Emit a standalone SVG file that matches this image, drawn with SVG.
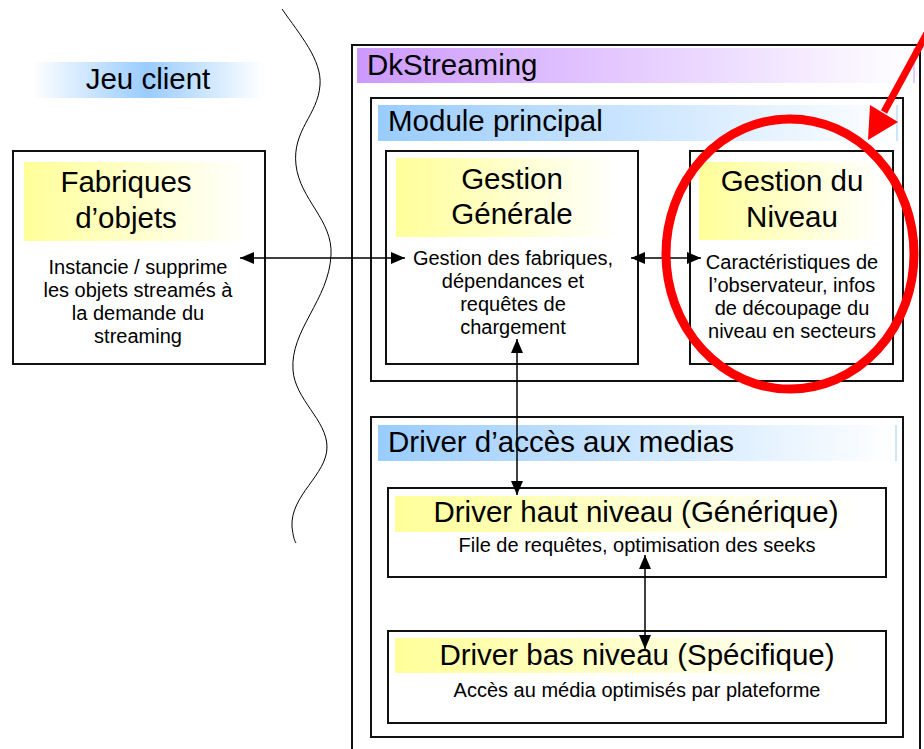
<svg xmlns="http://www.w3.org/2000/svg" width="924" height="749" viewBox="0 0 924 749">
<style>
text{font-family:"Liberation Sans",Arial,sans-serif;fill:#000}
.t{font-size:29.5px}
.s{font-size:20px}
.c{text-anchor:middle}
.box{fill:#fff;stroke:#111;stroke-width:2}
.con{stroke:#000;stroke-width:1.5;fill:none;marker-start:url(#ah);marker-end:url(#ah)}
</style>
<defs>
<linearGradient id="gY" x1="0" x2="1" y1="0" y2="0"><stop offset="0" stop-color="#FFFF99"/><stop offset="1" stop-color="#FFFFFF"/></linearGradient>
<linearGradient id="gB" x1="0" x2="1" y1="0" y2="0"><stop offset="0" stop-color="#99CCFF"/><stop offset="1" stop-color="#FFFFFF"/></linearGradient>
<linearGradient id="gP" x1="0" x2="1" y1="0" y2="0"><stop offset="0" stop-color="#CC99FF"/><stop offset="1" stop-color="#FFFFFF"/></linearGradient>
<linearGradient id="gJ" x1="0" x2="1" y1="0" y2="0"><stop offset="0" stop-color="#FFFFFF"/><stop offset="0.5" stop-color="#99CCFF"/><stop offset="1" stop-color="#FFFFFF"/></linearGradient>
<marker id="ah" viewBox="0 0 14 12" refX="14" refY="6" markerWidth="14" markerHeight="12" markerUnits="userSpaceOnUse" orient="auto-start-reverse"><path d="M0,0 L14,6 L0,12 z" fill="#000"/></marker>
</defs>

<path d="M282,9 C300,35 322,60 320,85 C318,115 292,130 296,165 C300,200 333,220 331,255 C329,300 290,330 293,370 C295,400 327,420 327,447 C327,475 290,495 292,527 C293,535 294,540 296,543" fill="none" stroke="#000" stroke-width="1"/>

<g id="jeu-client">
<rect x="32" y="62" width="231" height="36" fill="url(#gJ)"/>
<text class="t c" x="148" y="89">Jeu client</text>
</g>

<g id="fabriques">
<rect class="box" x="13" y="151" width="252" height="213"/>
<rect x="24" y="162" width="226" height="79" fill="url(#gY)"/>
<text class="t c" x="126" y="192">Fabriques</text>
<text class="t c" x="126" y="228">d’objets</text>
<text class="s c" x="138" y="274">Instancie / supprime</text>
<text class="s c" x="138" y="297">les objets streamés à</text>
<text class="s c" x="138" y="320">la demande du</text>
<text class="s c" x="138" y="343">streaming</text>
</g>

<g id="dkstreaming">
<rect class="box" x="352" y="45" width="568" height="720"/>
<rect x="357" y="48" width="557" height="35" fill="url(#gP)"/>
<line x1="914" y1="48" x2="914" y2="83" stroke="#CC99FF" stroke-width="1"/>
<text class="t" x="367" y="75">DkStreaming</text>
</g>

<g id="module-principal">
<rect class="box" x="371" y="98" width="532" height="283"/>
<rect x="378" y="105" width="519" height="36" fill="url(#gB)"/>
<line x1="897" y1="105" x2="897" y2="141" stroke="#99CCFF" stroke-width="1"/>
<text class="t" x="388" y="131">Module principal</text>
</g>

<g id="gestion-generale">
<rect class="box" x="386" y="151" width="252" height="213"/>
<rect x="396" y="158" width="224" height="79" fill="url(#gY)"/>
<text class="t c" x="512" y="189">Gestion</text>
<text class="t c" x="512" y="224">Générale</text>
<text class="s c" x="513" y="265">Gestion des fabriques,</text>
<text class="s c" x="513" y="288">dépendances et</text>
<text class="s c" x="513" y="311">requêtes de</text>
<text class="s c" x="513" y="334">chargement</text>
</g>

<g id="gestion-niveau">
<rect class="box" x="690" y="151" width="203" height="213"/>
<rect x="699" y="162" width="183" height="78" fill="url(#gY)"/>
<text class="t c" x="792" y="191">Gestion du</text>
<text class="t c" x="792" y="227">Niveau</text>
<text class="s c" x="792" y="269">Caractéristiques de</text>
<text class="s c" x="792" y="292">l’observateur, infos</text>
<text class="s c" x="792" y="315">de découpage du</text>
<text class="s c" x="792" y="338">niveau en secteurs</text>
</g>

<g id="driver-acces">
<rect class="box" x="371" y="417" width="532" height="320"/>
<rect x="378" y="425" width="518" height="36" fill="url(#gB)"/>
<line x1="896" y1="425" x2="896" y2="461" stroke="#99CCFF" stroke-width="1"/>
<text class="t" x="388" y="452">Driver d’accès aux medias</text>
</g>

<g id="driver-haut">
<rect class="box" x="388" y="488" width="498" height="89"/>
<rect x="395" y="496" width="464" height="36" fill="url(#gY)"/>
<text class="t c" x="636" y="522">Driver haut niveau (Générique)</text>
<text class="s c" x="637" y="552">File de requêtes, optimisation des seeks</text>
</g>

<g id="driver-bas">
<rect class="box" x="388" y="631" width="498" height="92"/>
<rect x="395" y="638" width="464" height="35" fill="url(#gY)"/>
<text class="t c" x="637" y="665">Driver bas niveau (Spécifique)</text>
<text class="s c" x="637" y="697">Accès au média optimisés par plateforme</text>
</g>

<g id="connectors">
<line class="con" x1="240" y1="258" x2="405" y2="258"/>
<line class="con" x1="631" y1="258" x2="701" y2="258"/>
<line class="con" x1="517" y1="339" x2="517" y2="495"/>
<line class="con" x1="645" y1="555" x2="645" y2="649"/>
</g>

<g id="highlight">
<ellipse cx="790" cy="254" rx="124" ry="135" fill="none" stroke="#FF0000" stroke-width="9"/>
<line x1="945" y1="0" x2="884" y2="112" stroke="#FF0000" stroke-width="7"/>
<polygon points="868,140 870,105 898,122" fill="#FF0000"/>
</g>
</svg>
